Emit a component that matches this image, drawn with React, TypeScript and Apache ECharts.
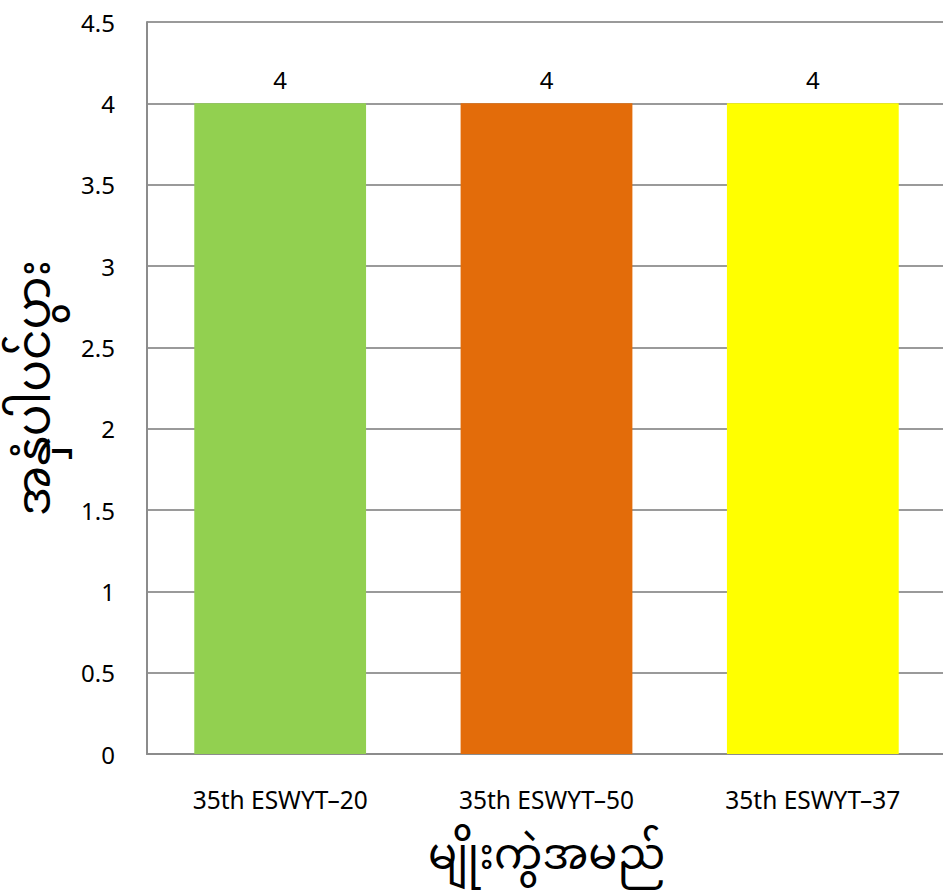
import React, { useEffect, useRef } from "react";
import * as echarts from "echarts";

const categories = ["35th ESWYT–20", "35th ESWYT–50", "35th ESWYT–37"];
const values = [4, 4, 4];
const barColors = ["#92D050", "#E36C0A", "#FFFF00"];
const yTicks = { min: 0, max: 4.5, interval: 0.5 };
const xTitle = "မျိုးကွဲအမည်";
const yTitle = "အနှံပါပင်ပွား";

const FONT = "'Noto Sans', 'Noto Sans Myanmar', 'Padauk', 'Myanmar Text', sans-serif";

export default function App() {
  const ref = useRef<HTMLDivElement>(null);
  useEffect(() => {
    document.body.style.margin = "0";
    document.body.style.overflow = "hidden";
    const chart = echarts.init(ref.current!, null, { renderer: "svg" });
    chart.setOption({
      animation: false,
      grid: { left: 146, right: 0, top: 22, bottom: 141 },
      xAxis: {
        type: "category",
        data: categories,
        name: xTitle,
        nameLocation: "middle",
        nameGap: 77,
        nameTextStyle: { fontSize: 43, color: "#000", fontFamily: FONT },
        axisLine: { show: true, lineStyle: { color: "#8c8c8c", width: 2 } },
        axisTick: { show: false },
        axisLabel: { fontSize: 24.5, color: "#000", margin: 33, fontFamily: FONT },
      },
      yAxis: {
        type: "value",
        min: yTicks.min,
        max: yTicks.max,
        interval: yTicks.interval,
        name: yTitle,
        nameLocation: "middle",
        nameGap: 92,
        nameTextStyle: { fontSize: 47, color: "#000", fontFamily: FONT },
        axisLine: { show: true, lineStyle: { color: "#8c8c8c", width: 2 } },
        axisTick: { show: false },
        axisLabel: { fontSize: 24, color: "#000", margin: 32, fontFamily: FONT },
        splitLine: { show: true, lineStyle: { color: "#9a9a9a", width: 2 } },
      },
      series: [
        {
          type: "bar",
          data: values.map((v, i) => ({ value: v, itemStyle: { color: barColors[i] } })),
          barWidth: "64.5%",
          label: {
            show: true,
            position: "top",
            distance: 12,
            fontSize: 24,
            color: "#000",
            fontFamily: FONT,
          },
        },
      ],
    });
    return () => chart.dispose();
  }, []);
  return <div ref={ref} style={{ width: 946, height: 895 }} />;
}
